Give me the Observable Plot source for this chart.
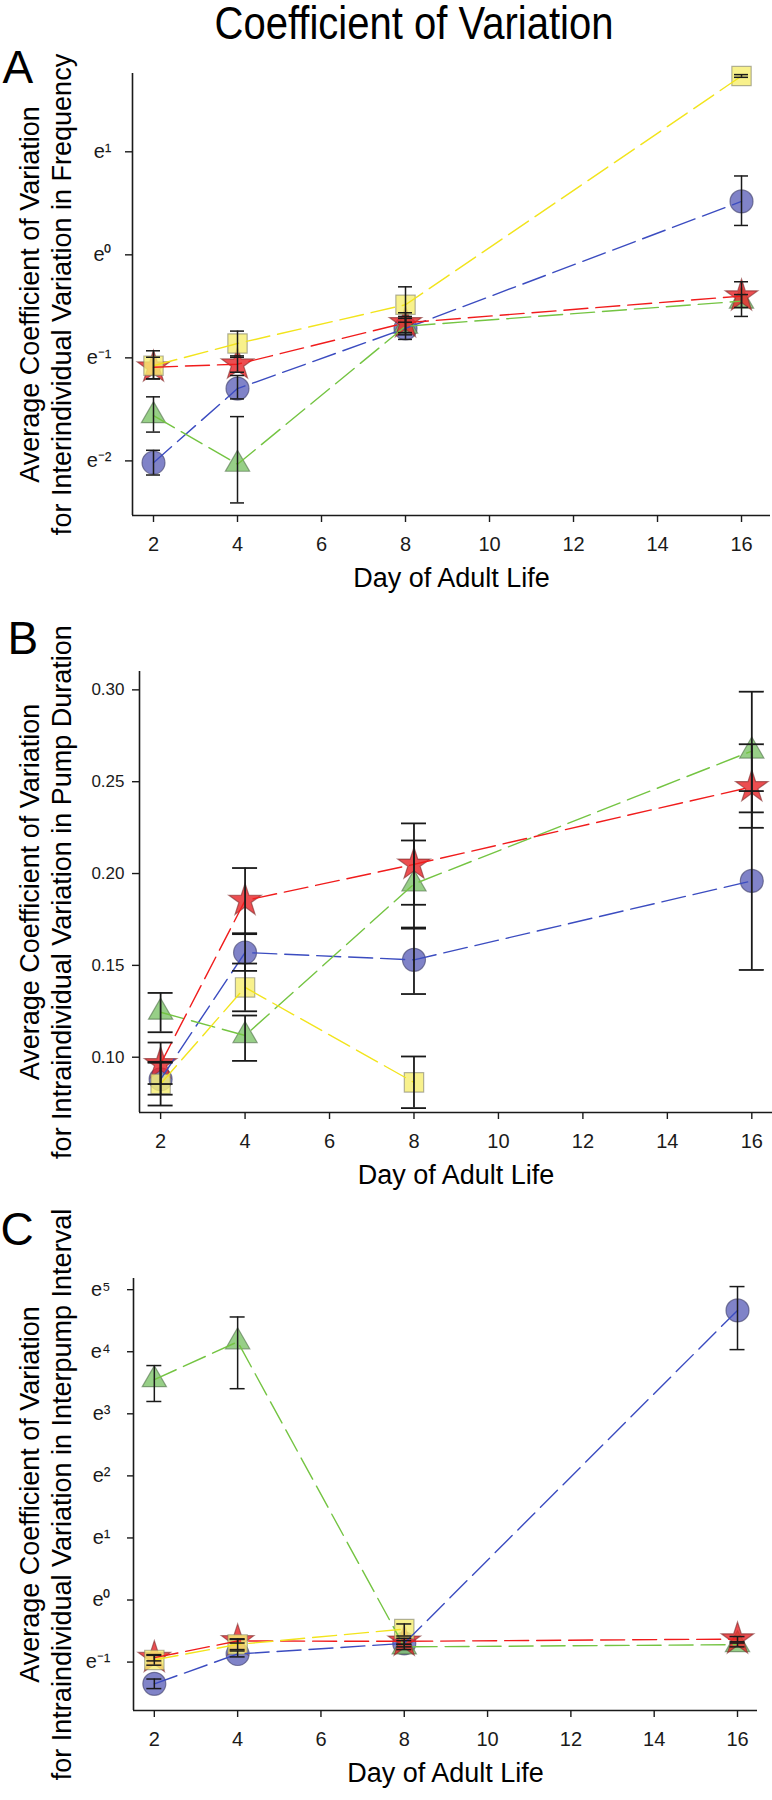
<!DOCTYPE html>
<html><head><meta charset="utf-8">
<script src="https://cdn.jsdelivr.net/npm/d3@7"></script>
<script src="https://cdn.jsdelivr.net/npm/@observablehq/plot@0.6"></script>
<style>
body{margin:0;background:#fff;font-family:"Liberation Sans",Arial,sans-serif;}
#wrap{position:relative;width:772px;}
#title{position:relative;height:46px;}
#title span{position:absolute;left:414px;top:0;font-size:46px;line-height:46px;white-space:nowrap;transform:translateX(-50%) scaleX(0.87);color:#000;}
.panel svg{display:block}
</style></head><body>
<div id="wrap">
<div id="title"><span>Coefficient of Variation</span></div>
<div id="A" class="panel"></div><div id="B" class="panel"></div><div id="C" class="panel"></div>
</div>
<script>
// ---------- data ----------
const days = [2, 4, 8, 16];
const daysShort = [2, 4, 8];
const xTicks = [2, 4, 6, 8, 10, 12, 14, 16];
const xTitle = "Day of Adult Life";
const pageTitle = "Coefficient of Variation";

// Panel A: interindividual variation in frequency (log axis, base e)
const aTickExps = [-2, -1, 0, 1];
const aBlue = [0.133, 0.273, 0.49, 1.68], aBlueLo = [0.118, 0.247, 0.44, 1.33], aBlueHi = [0.150, 0.310, 0.55, 2.15];
const aGreen = [0.210, 0.131, 0.50, 0.638], aGreenLo = [0.179, 0.090, 0.46, 0.60], aGreenHi = [0.252, 0.208, 0.54, 0.68];
const aRed = [0.336, 0.346, 0.517, 0.670], aRedLo = [0.30, 0.32, 0.47, 0.55], aRedHi = [0.37, 0.375, 0.57, 0.77];
const aYellow = [0.341, 0.423, 0.616, 5.67], aYellowLo = [0.30, 0.37, 0.52, 5.6], aYellowHi = [0.394, 0.477, 0.733, 5.75];

// Panel B: intraindividual variation in pump duration (linear)
const bTicks = [0.10, 0.15, 0.20, 0.25, 0.30];
const bBlue = [0.088, 0.157, 0.153, 0.196], bBlueLo = [0.0796, 0.147, 0.1344, 0.1475], bBlueHi = [0.097, 0.1675, 0.1706, 0.2449];
const bGreen = [0.1245, 0.1118, 0.1943, 0.2667], bGreenLo = [0.1136, 0.098, 0.170, 0.2333], bGreenHi = [0.135, 0.1227, 0.218, 0.299];
const bRed = [0.0964, 0.1853, 0.205, 0.2472], bRedLo = [0.0854, 0.167, 0.183, 0.2249], bRedHi = [0.108, 0.203, 0.2273, 0.2704];
const bYellow = [0.0855, 0.138, 0.0863], bYellowLo = [0.0737, 0.125, 0.0723], bYellowHi = [0.0975, 0.151, 0.1004];

// Panel C: intraindividual variation in interpump interval (log axis, base e)
const cTickExps = [-1, 0, 1, 2, 3, 4, 5];
const cBlue = [0.259, 0.419, 0.497, 106.3], cBlueLo = [0.24, 0.40, 0.47, 56.5], cBlueHi = [0.28, 0.44, 0.52, 156];
const cGreen = [34.8, 64.1, 0.470, 0.487], cGreenLo = [24.5, 30.1, 0.45, 0.47], cGreenHi = [43.7, 95.6, 0.49, 0.50];
const cRed = [0.395, 0.517, 0.514, 0.533], cRedLo = [0.375, 0.50, 0.49, 0.51], cRedHi = [0.415, 0.535, 0.54, 0.555];
const cYellow = [0.381, 0.489, 0.626], cYellowLo = [0.35, 0.45, 0.56], cYellowHi = [0.41, 0.53, 0.68];

// ---------- styles ----------
const STY = {
  blue:   {symbol: "circle",   r: 11.5, fill: "#6468bc", stroke: "#3c3c66", line: "#3b4cc0"},
  green:  {symbol: "triangle", r: 9,    fill: "#80c46c", stroke: "#4f6e48", line: "#74c442"},
  red:    {symbol: "star",     r: 10.2, fill: "#e8272b", stroke: "#7d2b2b", line: "#f01c1c"},
  yellow: {symbol: "square",   r: 10.9, fill: "#f6ee73", stroke: "#80806c", line: "#f2e41c"}
};
const INK = "#1a1a1a";
const sup = {"-": "\u207B", "0": "\u2070", "1": "\u00B9", "2": "\u00B2", "3": "\u00B3", "4": "\u2074", "5": "\u2075"};
const eFmt = d => "e" + String(Math.round(Math.log(d))).split("").map(c => sup[c]).join("");
const rows = (x, v, lo, hi) => x.map((d, i) => ({day: d, v: v[i], lo: lo[i], hi: hi[i]}));

function panel(cfg) {
  const order = ["blue", "green", "red", "yellow"];
  const marks = [
    Plot.ruleX([cfg.xDomain[0]], {stroke: INK, strokeWidth: 1.6}),
    Plot.ruleY([cfg.yDomain[0]], {stroke: INK, strokeWidth: 1.6}),
    Plot.axisX({ticks: xTicks, tickSize: 7, tickPadding: 14, fontSize: 20, strokeWidth: 1.4}),
    Plot.axisY({ticks: cfg.yTicks, tickFormat: cfg.fmt, tickSize: cfg.tickSize, tickPadding: cfg.tickPad, fontSize: cfg.yFont, strokeWidth: 1.4})
  ];
  for (const k of order) {
    const s = STY[k];
    marks.push(Plot.dot(cfg.series[k], {x: "day", y: "v", symbol: s.symbol, r: s.r, fill: s.fill, fillOpacity: 0.82, stroke: s.stroke, strokeOpacity: 0.6, strokeWidth: 1.2}));
  }
  for (const k of order) {
    marks.push(Plot.line(cfg.series[k], {x: "day", y: "v", stroke: STY[k].line, strokeWidth: 1.4, strokeDasharray: "24,8"}));
  }
  for (const k of order) {
    const d = cfg.series[k];
    marks.push(Plot.ruleX(d, {x: "day", y1: "lo", y2: "hi", stroke: INK, strokeWidth: cfg.ebw}));
    marks.push(Plot.ruleY(d, {x1: "day", x2: "day", y: "lo", insetLeft: -cfg.cap, insetRight: -cfg.cap, stroke: INK, strokeWidth: cfg.ebw}));
    marks.push(Plot.ruleY(d, {x1: "day", x2: "day", y: "hi", insetLeft: -cfg.cap, insetRight: -cfg.cap, stroke: INK, strokeWidth: cfg.ebw}));
  }
  marks.push(Plot.text([cfg.letter], {frameAnchor: "top-left", dx: cfg.letterX - cfg.marginLeft, dy: cfg.letterBase - cfg.marginTop, fontSize: 46, textAnchor: "start", lineAnchor: "bottom", fill: "#000"}));
  marks.push(Plot.text([cfg.ylabel], {frameAnchor: "left", dx: cfg.labelDx, rotate: -90, fontSize: 27, lineHeight: 1.185, textAnchor: "middle", fill: "#000"}));
  marks.push(Plot.text([xTitle], {frameAnchor: "bottom", dy: 71, fontSize: 27, fill: "#000"}));
  return Plot.plot({
    width: 772, height: cfg.height,
    marginLeft: cfg.marginLeft, marginRight: cfg.marginRight, marginTop: cfg.marginTop, marginBottom: cfg.marginBottom,
    x: {domain: cfg.xDomain, label: null},
    y: cfg.log ? {type: "log", base: Math.E, domain: cfg.yDomain, label: null} : {domain: cfg.yDomain, label: null},
    style: {fontFamily: "'Liberation Sans', Arial, sans-serif", color: INK, background: "#fff", overflow: "visible"},
    marks
  });
}

document.getElementById("A").append(panel({
  letter: "A", letterX: 2, letterBase: 36,
  ylabel: "Average Coefficient of Variation\nfor Interindividual Variation in Frequency",
  height: 560, marginLeft: 132, marginRight: 2, marginTop: 27, marginBottom: 91,
  xDomain: [1.5, 16.69], log: true, yDomain: [Math.exp(-2.53), Math.exp(1.76)],
  yTicks: aTickExps.map(Math.exp), fmt: eFmt, tickSize: 7, tickPad: 14, yFont: 20,
  labelDx: -88, cap: 7, ebw: 1.5,
  series: {
    blue: rows(days, aBlue, aBlueLo, aBlueHi), green: rows(days, aGreen, aGreenLo, aGreenHi),
    red: rows(days, aRed, aRedLo, aRedHi), yellow: rows(days, aYellow, aYellowLo, aYellowHi)
  }
}));

document.getElementById("B").append(panel({
  letter: "B", letterX: 7, letterBase: 47,
  ylabel: "Average Coefficient of Variation\nfor Intraindividual Variation in Pump Duration",
  height: 594, marginLeft: 139, marginRight: 0, marginTop: 65, marginBottom: 88,
  xDomain: [1.5, 16.49], log: false, yDomain: [0.0699, 0.31],
  yTicks: bTicks, fmt: d3.format(".2f"), tickSize: 7, tickPad: 8, yFont: 17,
  labelDx: -95, cap: 12.5, ebw: 1.8,
  series: {
    blue: rows(days, bBlue, bBlueLo, bBlueHi), green: rows(days, bGreen, bGreenLo, bGreenHi),
    red: rows(days, bRed, bRedLo, bRedHi), yellow: rows(daysShort, bYellow, bYellowLo, bYellowHi)
  }
}));

document.getElementById("C").append(panel({
  letter: "C", letterX: 0, letterBase: 44,
  ylabel: "Average Coefficient of Variation\nfor Intraindividual Variation in Interpump Interval",
  height: 600, marginLeft: 133, marginRight: 15, marginTop: 78, marginBottom: 90,
  xDomain: [1.5, 16.48], log: true, yDomain: [Math.exp(-1.78), Math.exp(5.18)],
  yTicks: cTickExps.map(Math.exp), fmt: eFmt, tickSize: 6, tickPad: 17, yFont: 20,
  labelDx: -89, cap: 7.5, ebw: 1.5,
  series: {
    blue: rows(days, cBlue, cBlueLo, cBlueHi), green: rows(days, cGreen, cGreenLo, cGreenHi),
    red: rows(days, cRed, cRedLo, cRedHi), yellow: rows(daysShort, cYellow, cYellowLo, cYellowHi)
  }
}));
</script>
</body></html>
